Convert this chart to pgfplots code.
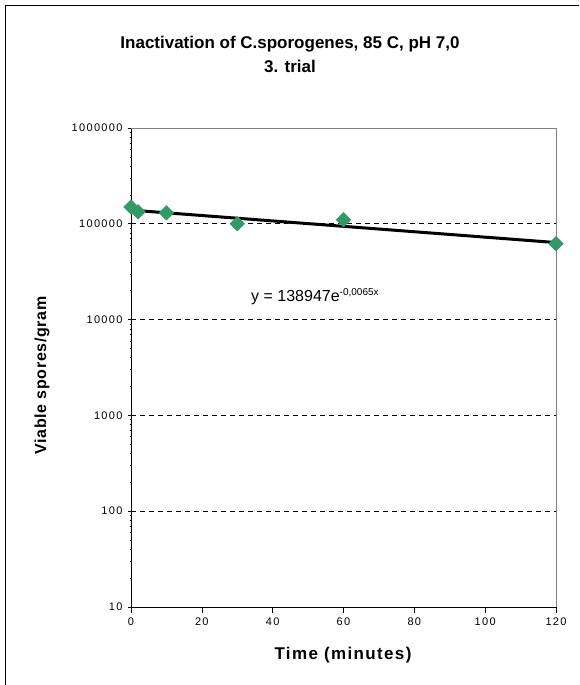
\documentclass[border=0pt]{standalone}
\usepackage{fontspec}
\setmainfont{Liberation Sans}
\usepackage{pgfplots}
\pgfplotsset{compat=1.18}
\definecolor{markgreen}{RGB}{51,153,102}
\definecolor{framegray}{RGB}{128,128,128}

\newcommand{\tickfont}{\fontsize{11}{13}\selectfont\addfontfeature{LetterSpace=12}}

\begin{document}
\begin{tikzpicture}[x=1pt,y=1pt]
% chart frame
\draw[line width=1pt] (5.5,0) -- (5.5,679.5) -- (579,679.5);
% title
\node[font=\bfseries\fontsize{17}{24}\selectfont, align=center] at (290,631) {Inactivation of C.sporogenes, 85 C, pH 7,0\\3. trial};

\begin{axis}[
  at={(131pt,78pt)}, anchor=south west,
  scale only axis, width=425pt, height=479pt,
  xmin=0, xmax=120, ymin=10, ymax=1000000,
  ymode=log,
  axis lines*=left,
  axis line style={black, line width=0.8pt},
  xtick={0,20,40,60,80,100,120},
  xticklabels={0,20,40,60,80,100,120},
  ytick={10,100,1000,10000,100000,1000000},
  yticklabels={10,100,1000,10000,100000,1000000},
  xtick align=outside, ytick align=center,
  major tick length=6pt,
  minor tick num=0,
  tick style={black, line width=0.6pt},
  xticklabel style={font=\tickfont, yshift=-1pt},
  yticklabel style={font=\tickfont, xshift=-2pt},
  extra y ticks={100,1000,10000,100000},
  extra y tick labels={},
  extra y tick style={ymajorgrids=true, major tick length=0pt,
    grid style={black, dash pattern=on 5pt off 4pt, line width=0.6pt}},
  clip=false,
]
% plot area border (top and right)
\draw[framegray, line width=0.8pt] (rel axis cs:0,1) -- (rel axis cs:1,1) -- (rel axis cs:1,0);

% exponential trendline y = 138947 e^{-0.0065x}
\addplot[black, line width=3pt] coordinates {
  (0,138947) (20,122010) (40,107140) (60,94080) (80,82610) (100,72540) (120,63690)
};

% measured spore counts
\addplot[only marks, mark=square*, mark size=5.2pt,
  mark options={rotate=45, fill=markgreen, draw=markgreen}] coordinates {
  (0,150000) (2,133000) (10,130000) (30,100000) (60,110000) (120,62000)
};

\node[font=\fontsize{16}{18}\selectfont] at (axis cs:52,17300)
  {y = 138947e\textsuperscript{\fontsize{10}{10}\selectfont -0,0065x}};
\end{axis}

% axis titles
\node[font=\bfseries\fontsize{17}{20}\selectfont\addfontfeature{LetterSpace=8}] at (343,30) {Time (minutes)};
\node[rotate=90, font=\bfseries\fontsize{16}{20}\selectfont\addfontfeature{LetterSpace=4}] at (42,309.5) {Viable spores/gram};

\pgfresetboundingbox
\path[use as bounding box] (0,0) rectangle (579,685);
\end{tikzpicture}
\end{document}
